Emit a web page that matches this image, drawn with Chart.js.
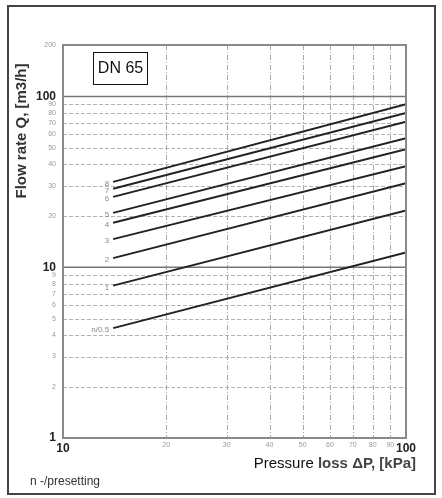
<!DOCTYPE html>
<html>
<head>
<meta charset="utf-8">
<script src="https://cdn.jsdelivr.net/npm/chart.js@4/dist/chart.umd.min.js"></script>
<style>
  html, body { margin: 0; padding: 0; background: #fff; }
  #wrap { width: 442px; height: 498px; }
</style>
</head>
<body>
<div id="wrap"><canvas id="c" width="442" height="498"></canvas></div>
<script>
// Presetting curves for a DN 65 balancing valve: flow rate vs. pressure loss
const presettings = ['8', '7', '6', '5', '4', '3', '2', '1', 'n/0.5'];
const pressureLoss = [14, 100];                       // kPa, start and end of each curve
const flowAtStart = [31.6, 28.8, 25.8, 20.8, 18.2, 14.6, 11.3, 7.8, 4.4];   // m3/h
const flowAtEnd   = [90, 80, 71, 57, 49, 39, 31, 21.5, 12.2];               // m3/h
const xTickValues = [10, 20, 30, 40, 50, 60, 70, 80, 90, 100];
const yTickValues = [1, 2, 3, 4, 5, 6, 7, 8, 9, 10, 20, 30, 40, 50, 60, 70, 80, 90, 100, 200];
const majorValues = [1, 10, 100];

const datasets = presettings.map((name, i) => ({
  label: name,
  data: [
    { x: pressureLoss[0], y: flowAtStart[i] },
    { x: pressureLoss[1], y: flowAtEnd[i] }
  ],
  borderColor: '#222',
  borderWidth: 2,
  pointRadius: 0,
  fill: false,
  tension: 0
}));

const FONT = '"Liberation Sans", Arial, sans-serif';

// Grid lines, frame and free-standing texts
const decor = {
  id: 'decor',
  beforeDatasetsDraw(chart) {
    const { ctx, chartArea: a, scales: { x, y } } = chart;
    ctx.save();
    // vertical dashed lines
    ctx.strokeStyle = '#a8a8a8';
    ctx.lineWidth = 1;
    ctx.setLineDash([5, 2, 1, 2]);
    xTickValues.forEach(v => {
      if (v === 10 || v === 100) return;
      const px = Math.round(x.getPixelForValue(v)) + 0.5;
      ctx.beginPath(); ctx.moveTo(px, a.top); ctx.lineTo(px, a.bottom); ctx.stroke();
    });
    // horizontal dashed lines
    ctx.strokeStyle = '#b4b4b4';
    ctx.setLineDash([4, 2]);
    yTickValues.forEach(v => {
      if (majorValues.includes(v) || v === 200) return;
      const py = Math.round(y.getPixelForValue(v)) + 0.5;
      ctx.beginPath(); ctx.moveTo(a.left, py); ctx.lineTo(a.right, py); ctx.stroke();
    });
    // decade lines
    ctx.setLineDash([]);
    ctx.strokeStyle = '#777';
    ctx.lineWidth = 1.5;
    [10, 100].forEach(v => {
      const py = y.getPixelForValue(v);
      ctx.beginPath(); ctx.moveTo(a.left, py); ctx.lineTo(a.right, py); ctx.stroke();
    });
    ctx.restore();
  },
  afterDatasetsDraw(chart) {
    const { ctx, chartArea: a, scales: { x, y } } = chart;
    ctx.save();
    // plot frame
    ctx.strokeStyle = '#8a8a8a';
    ctx.lineWidth = 2;
    ctx.strokeRect(a.left, a.top, a.right - a.left, a.bottom - a.top);
    // curve labels
    ctx.fillStyle = '#888';
    ctx.font = '8px ' + FONT;
    ctx.textAlign = 'right';
    ctx.textBaseline = 'middle';
    presettings.forEach((name, i) => {
      const px = x.getPixelForValue(pressureLoss[0]);
      const py = y.getPixelForValue(flowAtStart[i]);
      ctx.fillText(name, px - 4, py + 2);
    });
    // outer frame
    ctx.strokeStyle = '#444';
    ctx.lineWidth = 2;
    ctx.strokeRect(8, 6, 427, 488);
    // size box
    ctx.fillStyle = '#fff';
    ctx.fillRect(93, 52, 54, 32);
    ctx.strokeStyle = '#111';
    ctx.lineWidth = 1;
    ctx.strokeRect(93.5, 52.5, 54, 32);
    ctx.fillStyle = '#111';
    ctx.font = '16px ' + FONT;
    ctx.textAlign = 'center';
    ctx.fillText('DN 65', 120.5, 69);
    // axis titles
    ctx.save();
    ctx.translate(22, 131);
    ctx.rotate(-Math.PI / 2);
    ctx.font = 'bold 15px ' + FONT;
    ctx.fillStyle = '#333';
    ctx.textAlign = 'center';
    ctx.fillText('Flow rate Q, [m3/h]', 0, 0);
    ctx.restore();
    ctx.textAlign = 'left';
    ctx.font = '15px ' + FONT;
    ctx.fillStyle = '#111';
    const part1 = 'Pressure ';
    const w1 = ctx.measureText(part1).width;
    ctx.font = 'bold 15px ' + FONT;
    const part2 = 'loss \u0394P, [kPa]';
    const w2 = ctx.measureText(part2).width;
    const startX = 416 - w1 - w2;
    ctx.font = '15px ' + FONT;
    ctx.fillText(part1, startX, 464);
    ctx.font = 'bold 15px ' + FONT;
    ctx.fillStyle = '#444';
    ctx.fillText(part2, startX + w1, 464);
    ctx.font = '12px ' + FONT;
    ctx.fillStyle = '#333';
    ctx.fillText('n -/presetting', 30, 482);
    ctx.restore();
  }
};

new Chart(document.getElementById('c'), {
  type: 'line',
  data: { datasets },
  options: {
    responsive: false,
    animation: false,
    layout: { padding: { left: 33, top: 45, right: 36, bottom: 40 } },
    plugins: { legend: { display: false }, tooltip: { enabled: false } },
    scales: {
      x: {
        type: 'logarithmic',
        min: 10, max: 100,
        afterBuildTicks: s => { s.ticks = xTickValues.map(v => ({ value: v })); },
        afterFit: s => { s.height = 20; },
        grid: { display: false, drawTicks: false },
        border: { display: false },
        ticks: {
          autoSkip: false, maxRotation: 0, padding: 3,
          callback: v => String(v),
          font: c => ([10, 100].includes(c.tick.value)
            ? { family: FONT, size: 12, weight: 'bold' }
            : { family: FONT, size: 7 }),
          color: c => ([10, 100].includes(c.tick.value) ? '#222' : '#999')
        }
      },
      y: {
        type: 'logarithmic',
        min: 1, max: 200,
        afterBuildTicks: s => { s.ticks = yTickValues.map(v => ({ value: v })); },
        afterFit: s => { s.width = 30; },
        grid: { display: false, drawTicks: false },
        border: { display: false },
        ticks: {
          autoSkip: false, padding: 7,
          callback: v => String(v),
          font: c => (majorValues.includes(c.tick.value)
            ? { family: FONT, size: 12, weight: 'bold' }
            : { family: FONT, size: 7 }),
          color: c => (majorValues.includes(c.tick.value) ? '#222' : '#999')
        }
      }
    }
  },
  plugins: [decor]
});
</script>
</body>
</html>
